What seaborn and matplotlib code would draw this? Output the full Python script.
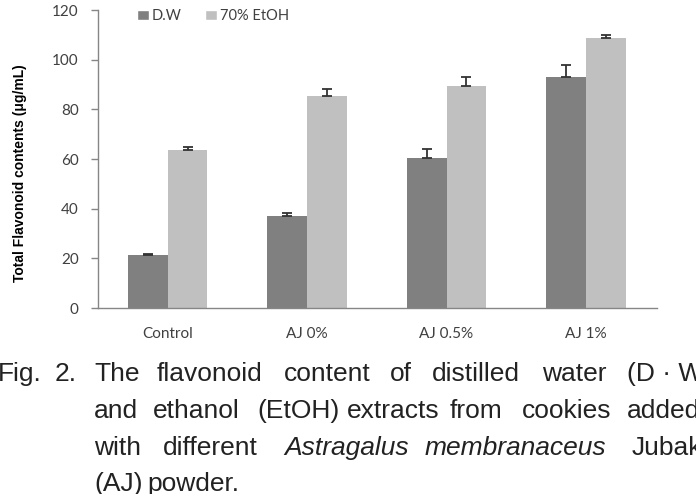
import numpy as np
import pandas as pd
import seaborn as sns
import matplotlib.pyplot as plt
from matplotlib.patches import Patch

# =============================================================================
# Data
# =============================================================================
GROUPS = ["Control", "AJ 0%", "AJ 0.5%", "AJ 1%"]
SOLVENTS = ["D.W", "70% EtOH"]
DW_MEAN = [21.3, 36.9, 60.5, 93.2]
DW_ERR = [0.5, 1.2, 3.5, 4.5]
ETOH_MEAN = [63.6, 85.2, 89.3, 108.9]
ETOH_ERR = [1.1, 2.8, 3.7, 1.2]

Y_TICKS = [0, 20, 40, 60, 80, 100, 120]
Y_LABEL = "Total Flavonoid contents (\u03bcg/mL)"

# caption lines: (x position in px, word, italic?) - justified text in the source
CAPTION = [
    [(-2, "Fig.", False), (55, "2.", False), (94, "The", False), (157, "flavonoid", False),
     (284, "content", False), (390, "of", False), (432, "distilled", False),
     (542, "water", False), (627, "(D \u00b7 W)", False)],
    [(94, "and", False), (153, "ethanol", False), (257, "(EtOH)", False),
     (347, "extracts", False), (450, "from", False), (522, "cookies", False),
     (627, "added", False)],
    [(94, "with", False), (163, "different", False), (284, "Astragalus", True),
     (425, "membranaceus", True), (632, "Jubak", False)],
    [(94, "(AJ)", False), (147, "powder.", False)],
]
CAPTION_BASELINES = [381, 418, 455, 491]

DW_COLOR = "#808080"
ETOH_COLOR = "#c0c0c0"
AXIS_COLOR = "#868686"
TEXT_COLOR = "#404040"

W, H = 696, 494


def build_frame():
    rows = []
    for g, dw, et in zip(GROUPS, DW_MEAN, ETOH_MEAN):
        rows.append({"group": g, "solvent": SOLVENTS[0], "value": dw})
        rows.append({"group": g, "solvent": SOLVENTS[1], "value": et})
    return pd.DataFrame(rows)


def make_plot():
    sns.set_style("white")
    plt.rcParams["font.family"] = ["Lato", "DejaVu Sans"]

    fig = plt.figure(figsize=(W / 100, H / 100), dpi=100)
    ax = fig.add_axes([98 / W, 1 - 308 / H, 559 / W, 298 / H])

    df = build_frame()
    sns.barplot(data=df, x="group", y="value", hue="solvent", order=GROUPS,
                hue_order=SOLVENTS, palette=[DW_COLOR, ETOH_COLOR],
                width=0.57, gap=0, errorbar=None, saturation=1,
                linewidth=0, legend=False, ax=ax)

    # upper-only error bars at bar centres
    for container, errs in zip(ax.containers, [DW_ERR, ETOH_ERR]):
        xs = [p.get_x() + p.get_width() / 2 for p in container]
        ys = [p.get_height() for p in container]
        ax.errorbar(xs, ys, yerr=[np.zeros(len(errs)), errs], fmt="none",
                    ecolor="#333333", elinewidth=1.3, capsize=3.6,
                    capthick=1.3)

    ax.set_xlim(-0.5, 3.51)
    ax.set_ylim(0, 120)
    ax.set_yticks(Y_TICKS)
    ax.set_xlabel("")
    ax.set_ylabel(Y_LABEL, fontsize=10, fontweight="bold",
                  family=["Liberation Sans", "DejaVu Sans"], color="black")
    ax.yaxis.set_label_coords(-0.127, 0.453)

    for s in ["top", "right"]:
        ax.spines[s].set_visible(False)
    for s in ["left", "bottom"]:
        ax.spines[s].set_color(AXIS_COLOR)
        ax.spines[s].set_linewidth(1.0)

    ax.tick_params(axis="y", length=5, width=1, color=AXIS_COLOR, pad=9,
                   labelsize=11, labelcolor=TEXT_COLOR, left=True)
    ax.tick_params(axis="x", length=0, pad=14, labelsize=11,
                   labelcolor=TEXT_COLOR)

    handles = [Patch(facecolor=DW_COLOR, label=SOLVENTS[0]),
               Patch(facecolor=ETOH_COLOR, label=SOLVENTS[1])]
    ax.legend(handles=handles, ncol=2, frameon=False, loc="center left",
              bbox_to_anchor=(0.06, 0.98), fontsize=10.5, handlelength=0.8,
              handleheight=0.75, handletextpad=0.2, columnspacing=1.6,
              labelcolor=TEXT_COLOR, borderaxespad=0)

    for line, base in zip(CAPTION, CAPTION_BASELINES):
        for x, word, italic in line:
            fig.text(x / W, 1 - base / H, word, fontsize=19,
                     family=["Liberation Sans", "DejaVu Sans"], color="#222222",
                     style="italic" if italic else "normal",
                     va="baseline", ha="left")

    fig.savefig("out.png", dpi=100)
    plt.close(fig)


if __name__ == "__main__":
    make_plot()
